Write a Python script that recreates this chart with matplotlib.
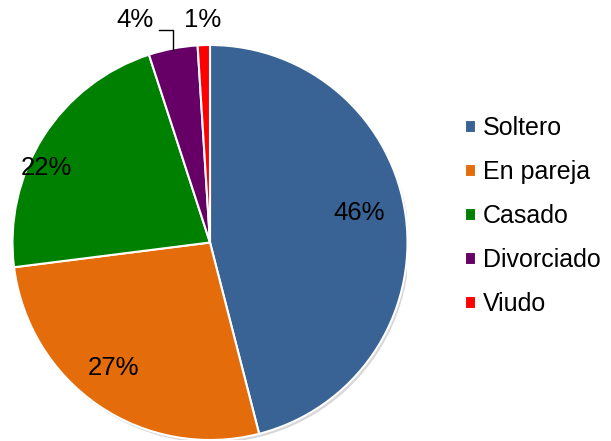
import numpy as np
import matplotlib.pyplot as plt
from matplotlib.patches import Circle

plt.rcParams['font.family'] = ['Liberation Sans', 'DejaVu Sans']

# ── Data ──────────────────────────────────────────────────────────────────────
categories = ["Soltero", "En pareja", "Casado", "Divorciado", "Viudo"]
values = [46, 27, 22, 4, 1]
colors = ["#3A6395", "#E46C0A", "#008000", "#660066", "#FF0000"]

# label placement (fraction of radius, angle tweak in degrees)
label_r = [0.77, 0.80, 0.91]
label_da = [4, -3.5, 8]
FS = 18.5

fig = plt.figure(figsize=(6.11, 4.41), dpi=100)
ax = fig.add_axes([12 / 611, 1 / 441, 396 / 611, 395 / 441])

# soft shadow behind the pie
ax.add_patch(Circle((0.01, -0.014), 1.0, facecolor="#b0b0b0", edgecolor="none",
                    alpha=0.5, zorder=0))

wedges, _ = ax.pie(values, colors=colors, startangle=90, counterclock=False,
                   radius=1.0,
                   wedgeprops=dict(edgecolor="white", linewidth=1.5))
for w in wedges:
    w.set_zorder(1)

# percentage labels
for i, w in enumerate(wedges):
    mid = np.deg2rad((w.theta1 + w.theta2) / 2)
    if i < 3:
        a = mid + np.deg2rad(label_da[i])
        r = label_r[i]
        ax.text(r * np.cos(a), r * np.sin(a), f"{values[i]}%", ha="center",
                va="center", fontsize=FS, color="black", zorder=3)

# small slices: labels above the pie
w4 = wedges[3]
mid4 = np.deg2rad((w4.theta1 + w4.theta2) / 2)
x4, y4 = np.cos(mid4), np.sin(mid4)
ax.text(-0.38, 1.125, f"{values[3]}%", ha="center", va="center", fontsize=FS)
ax.plot([-0.26, x4, x4], [1.075, 1.075, y4 * 0.99], color="black",
        lw=1.0, zorder=3, clip_on=False)
ax.text(-0.035, 1.125, f"{values[4]}%", ha="center", va="center", fontsize=FS)

ax.set_xlim(-1.0, 1.0)
ax.set_ylim(-1.0, 1.0)
ax.set_aspect("equal")
ax.axis("off")

# legend
leg = fig.legend(wedges, categories, loc="upper left",
                 bbox_to_anchor=(455 / 611, 1 - 106 / 441), frameon=False,
                 fontsize=18, handlelength=0.42, handleheight=0.42,
                 handletextpad=0.3, labelspacing=0.8, borderaxespad=0)

fig.savefig("out.png", dpi=100, facecolor="white")
